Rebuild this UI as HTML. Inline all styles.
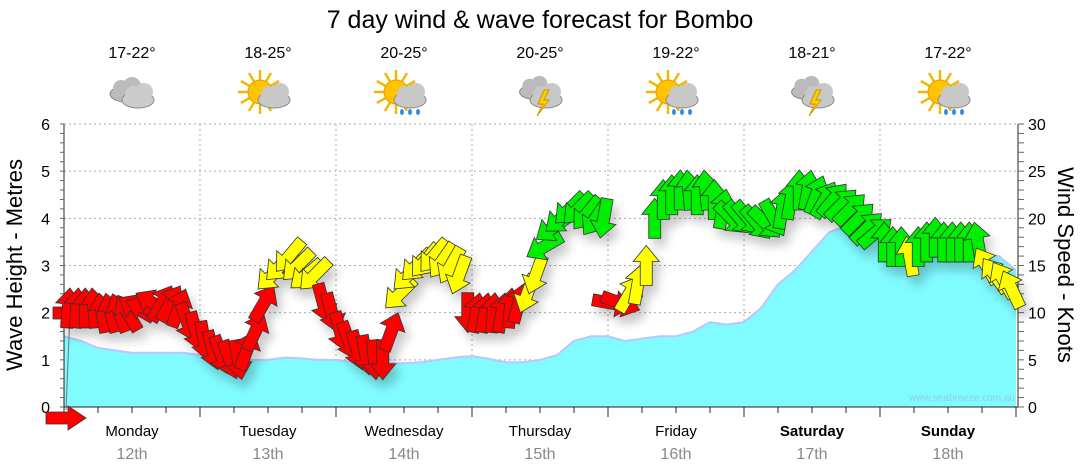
<!DOCTYPE html>
<html><head><meta charset="utf-8">
<style>
body{margin:0;background:#fff;width:1080px;height:475px;overflow:hidden;font-family:"Liberation Sans",sans-serif}
svg{display:block}
</style></head>
<body>
<svg id="chart" width="1080" height="475" viewBox="0 0 1080 475" xmlns="http://www.w3.org/2000/svg">
<defs>
<filter id="sh" x="-50%" y="-50%" width="200%" height="200%"><feGaussianBlur in="SourceAlpha" stdDeviation="5"/><feOffset dx="5" dy="8"/><feComponentTransfer><feFuncA type="linear" slope="0.22"/></feComponentTransfer><feMerge><feMergeNode/><feMergeNode in="SourceGraphic"/></feMerge></filter>
</defs>
<text x="540" y="28" text-anchor="middle" font-size="25">7 day wind &amp; wave forecast for Bombo</text>
<g id="wx"></g>
<g id="grid"></g>
<g id="wave"></g>
<g id="axes"></g>
<g id="arrows" filter="url(#sh)"></g>
<text x="1015" y="401" text-anchor="end" font-size="10" fill="#8fd0e6">www.seabreeze.com.au</text>
<text transform="translate(22,265) rotate(-90)" text-anchor="middle" font-size="22">Wave Height - Metres</text>
<text transform="translate(1058,265) rotate(90)" text-anchor="middle" font-size="22">Wind Speed - Knots</text>
</svg>
<script>
const days=["Monday","Tuesday","Wednesday","Thursday","Friday","Saturday","Sunday"];
const dates=["12th","13th","14th","15th","16th","17th","18th"];
const temps=["17-22°","18-25°","20-25°","20-25°","19-22°","18-21°","17-22°"];
const icons=["cloud","suncloud","sunrain","storm","sunrain","storm","sunrain"];
const waveTicks=[0,1,2,3,4,5,6];
const windTicks=[0,5,10,15,20,25,30];
const waveHeights=[1.5,1.4,1.25,1.2,1.15,1.15,1.15,1.15,1.1,1.05,1.0,1.0,1.0,1.05,1.03,1.0,1.0,0.95,0.92,0.92,0.93,0.95,1.0,1.05,1.08,1.02,0.95,0.95,1.0,1.1,1.4,1.5,1.5,1.4,1.45,1.5,1.5,1.6,1.8,1.75,1.8,2.1,2.6,2.9,3.3,3.7,3.85,3.85,3.7,3.5,3.4,3.35,3.3,3.3,3.25,3.2,2.9];
const windSpeeds=[10.5,10.5,10.5,10.5,10,10,10,10,10.5,10.5,11,11,11,10.5,9,8,
7,6,5.5,5,5,6,8,11,14,15,16,15,14,14,11,10,
8,7,6,5.5,5,5,8,12,14,15,15.5,16,15.5,15,14,10,
10,10,10,10,10.5,11,12,14,17,19,20,21,21,20.5,20,20,
11,11,12,13,15,20,22,22.5,23,23,22.5,23,22,21,20,20,
20,19.5,19.5,20,21,22,23,23,22.5,22,22,21.5,21,20,19,18.5,
17.5,17,17,16,17,17.5,18,17.5,17.5,17.5,17.5,17.5,15,14,13.5,12.5];
const windDirs=[5,5,0,-5,-10,-15,-20,-30,-60,-70,-60,30,30,20,160,165,
170,165,160,160,170,20,25,30,225,225,220,225,230,225,165,165,
165,160,165,170,175,180,20,225,225,225,220,220,215,210,200,180,
10,10,5,10,5,15,200,200,240,235,230,225,225,220,215,190,
100,110,30,10,0,0,0,0,0,-5,0,-5,0,10,135,140,
140,140,135,150,10,10,0,10,20,30,40,45,45,45,45,50,
0,0,0,-10,0,0,0,0,0,0,0,-10,-30,-35,-30,-25];

const NS="http://www.w3.org/2000/svg";
const X0=64,X1=1016,Y0=407,Y1=124,DAYW=(X1-X0)/7;
const yWave=v=>Y0-(v/6)*(Y0-Y1);
const yWind=v=>Y0-(v/30)*(Y0-Y1);
const xTime=d=>X0+d*DAYW;
function mk(tag,attrs,parent){const e=document.createElementNS(NS,tag);for(const k in attrs)e.setAttribute(k,attrs[k]);parent.appendChild(e);return e;}
const grid=document.getElementById('grid'),axes=document.getElementById('axes'),wave=document.getElementById('wave'),arrows=document.getElementById('arrows'),wx=document.getElementById('wx');

for(let i=1;i<=6;i++){const g=mk('line',{x1:X0,x2:X1,y1:yWave(i),y2:yWave(i),stroke:'#aaa','stroke-dasharray':'2,3'},grid);

}
for(let d=1;d<7;d++){const g=mk('line',{x1:xTime(d),x2:xTime(d),y1:Y1,y2:Y0,stroke:'#aaa','stroke-dasharray':'2,3'},grid);

}

const n=waveHeights.length;
let dstr=`M${X0},${Y0}`;
let lstr='';
waveHeights.forEach((v,i)=>{const x=xTime(i*7/(n-1)),y=yWave(v);dstr+=` L${x},${y}`;lstr+=(i?' L':'M')+x+','+y;});
dstr+=` L${X1},${Y0} Z`;
const wa=mk('path',{d:dstr,fill:'#80fbff'},wave);


const wl=mk('path',{d:lstr,fill:'none',stroke:'#b8c8ff','stroke-width':2},wave);



mk('line',{x1:X0,x2:X0,y1:Y1,y2:Y0,stroke:'#222'},axes);
mk('line',{x1:X1+2,x2:X1+2,y1:Y1,y2:Y0,stroke:'#222'},axes);
mk('line',{x1:X0,x2:X1+2,y1:Y0,y2:Y0,stroke:'#222'},axes);
for(let v=0;v<=6.001;v+=0.2){const y=yWave(v);mk('line',{x1:X0-4,x2:X0,y1:y,y2:y,stroke:'#666'},axes);}
for(let v=0;v<=30;v+=1){const y=yWind(v);mk('line',{x1:X1+2,x2:X1+8,y1:y,y2:y,stroke:'#666'},axes);}
waveTicks.forEach(v=>{const t=mk('text',{x:X0-14,y:yWave(v)+6,'text-anchor':'end','font-size':16},axes);t.textContent=v;

});
windTicks.forEach(v=>{const t=mk('text',{x:X1+12,y:yWind(v)+6,'font-size':16},axes);t.textContent=v;

});
for(let q=0;q<=28;q++){const x=xTime(q/4);const big=q%4===0;mk('line',{x1:x,x2:x,y1:Y0,y2:Y0+(big?10:6),stroke:'#222'},axes);}
days.forEach((d,i)=>{const cx=xTime(i+0.5);
const t=mk('text',{x:cx,y:436,'text-anchor':'middle','font-size':15,'font-weight':i>=5?'bold':'normal'},axes);t.textContent=d;


const t2=mk('text',{x:cx,y:459,'text-anchor':'middle','font-size':16,fill:'#888'},axes);t2.textContent=dates[i];


const t3=mk('text',{x:cx,y:58,'text-anchor':'middle','font-size':16},wx);t3.textContent=temps[i];


drawIcon(icons[i],cx,94);
});

function cloud(g,x,y,s,c){mk('ellipse',{cx:x,cy:y+4,rx:16*s,ry:8*s,fill:c,stroke:'#888'},g);mk('circle',{cx:x-5*s,cy:y-2,r:8*s,fill:c},g);mk('circle',{cx:x+6*s,cy:y-4,r:9*s,fill:c},g);mk('ellipse',{cx:x,cy:y+4,rx:15*s,ry:7*s,fill:c},g);}
function sun(g,x,y){for(let a=0;a<360;a+=30){const r=a*Math.PI/180;mk('line',{x1:x+Math.cos(r)*12,y1:y+Math.sin(r)*12,x2:x+Math.cos(r)*22,y2:y+Math.sin(r)*22,stroke:'#f5b800','stroke-width':2.5},g);}mk('circle',{cx:x,cy:y,r:12,fill:'#ffc400',stroke:'#e6a000'},g);}
function drawIcon(type,x,y){const g=mk('g',{},wx);


if(type==='cloud'){cloud(g,x-6,y-4,1,'#bbb');cloud(g,x+6,y+2,1,'#ccc');}
else{ if(type!=='storm')sun(g,x-8,y-2); else cloud(g,x-6,y-6,0.9,'#bbb');
 cloud(g,x+6,y+2,1,'#c8c8c8');
 if(type==='sunrain'){for(let k=-1;k<=1;k++)mk('ellipse',{cx:x+6+k*8,cy:y+18,rx:2,ry:3,fill:'#2a8ee0'},g);}
 if(type==='storm'){mk('path',{d:`M${x+4},${y-4} L${x-2},${y+10} L${x+3},${y+10} L${x-3},${y+22} L${x+9},${y+6} L${x+4},${y+6} L${x+9},${y-4}Z`,fill:'#ffcc00',stroke:'#c90'},g);}
}}

function color(s){return s<12?'#ff0000':(s<17?'#ffff00':'#00ee00');}
const shape="M-6,20 L-6,-4 L-13,-4 L0,-20 L13,-4 L6,-4 L6,20 Z";
windSpeeds.forEach((s,i)=>{const x=xTime(i/16+1/32),y=yWind(s);
const a=mk('path',{d:shape,fill:color(s),stroke:'#333','stroke-width':0.8,transform:`translate(${x},${y}) rotate(${windDirs[i]})`},arrows);

});
const la=mk('path',{d:"M46,412 L68,412 L68,406 L86,418 L68,430 L68,424 L46,424 Z",fill:'#ff0000',stroke:'#333','stroke-width':0.8},axes);


mk('line',{x1:70,y1:313,x2:66,y2:410,stroke:'#777'},axes);
const lb=mk('rect',{x:53,y:307,width:20,height:12,fill:'#ff0000',stroke:'#333','stroke-width':0.8},axes);


</script>
</body></html>
